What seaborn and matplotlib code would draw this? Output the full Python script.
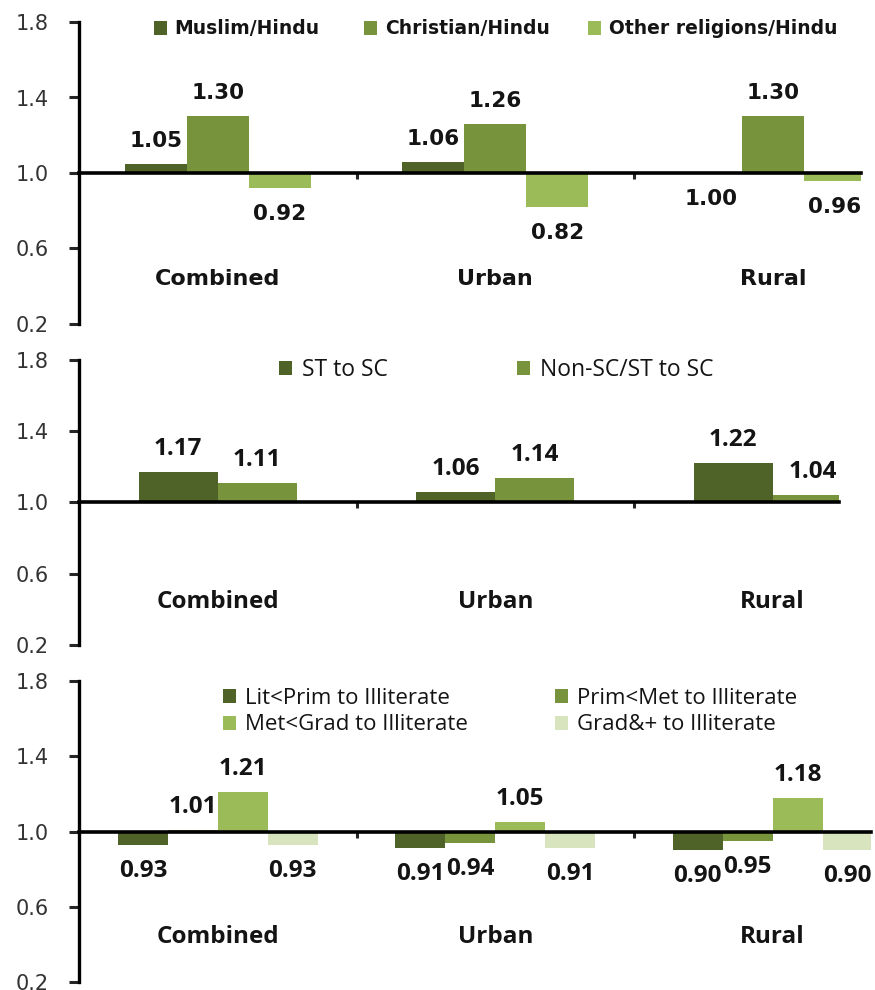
import matplotlib
matplotlib.use("Agg")
import matplotlib.pyplot as plt
from matplotlib.ticker import FormatStrFormatter
import pandas as pd
import seaborn as sns

# ---- data -------------------------------------------------------------
areas = ["Combined", "Urban", "Rural"]

religion_series = ["Muslim/Hindu", "Christian/Hindu", "Other religions/Hindu"]
muslim_hindu = [1.05, 1.06, 1.00]
christian_hindu = [1.30, 1.26, 1.30]
other_hindu = [0.92, 0.82, 0.96]

caste_series = ["ST to SC", "Non-SC/ST to SC"]
st_sc = [1.17, 1.06, 1.22]
non_scst_sc = [1.11, 1.14, 1.04]

edu_series = ["Lit<Prim to Illiterate", "Prim<Met to Illiterate",
              "Met<Grad to Illiterate", "Grad&+ to Illiterate"]
lit_prim = [0.93, 0.91, 0.90]
prim_met = [1.01, 0.94, 0.95]
met_grad = [1.21, 1.05, 1.18]
grad_plus = [0.93, 0.91, 0.90]

y_ticks = [0.2, 0.6, 1.0, 1.4, 1.8]
baseline = 1.0

# ---- styling ----------------------------------------------------------
sns.set_style("white")
plt.rcParams["font.family"] = ["DejaVu Sans"]

greens = ["#4f6228", "#77933c", "#9bbb59", "#d7e4bd"]
W, H = 875, 990
GROUP_PX = 277.5

fig = plt.figure(figsize=(W / 100, H / 100), dpi=100)


def long_table(names, values):
    rows = []
    for name, vals in zip(names, values):
        for area, v in zip(areas, vals):
            rows.append({"area": area, "series": name, "ratio": v})
    return pd.DataFrame(rows)


def draw_panel(box, names, values, width, family, tick_fs, val_fs, cat_fs,
               leg_fs, leg_weight, leg_slots, hsize, hpad):
    left, top, right, bottom = box
    ax = fig.add_axes([left / W, 1 - bottom / H, (right - left) / W, (bottom - top) / H])
    df = long_table(names, values)
    sns.barplot(data=df, x="area", y="ratio", hue="series", order=areas,
                hue_order=names, palette=dict(zip(names, greens)),
                width=width, saturation=1, linewidth=0, ax=ax, legend=True)
    leg = ax.get_legend()
    handles = list(leg.legend_handles)
    leg.remove()

    # bars hang from the 1.0 parity line, labels sit beyond the bar end
    for cont in ax.containers:
        for bar in cont:
            v = bar.get_height()
            bar.set_y(baseline)
            bar.set_height(v - baseline)
            up = v > baseline
            ax.annotate(f"{v:.2f}", (bar.get_x() + bar.get_width() / 2, v),
                        xytext=(0, 16.5 if up else -18.7), textcoords="offset points",
                        ha="center", va="center", fontsize=val_fs,
                        fontweight="bold", fontfamily=family, color="#141414")

    ax.set_ylim(0.2, 1.8)
    ax.set_xlim(-0.5, -0.5 + (right - left) / GROUP_PX)
    ax.set_yticks(y_ticks)
    ax.yaxis.set_major_formatter(FormatStrFormatter("%.1f"))
    ax.set_xticks([])
    ax.set_xticks([0.5, 1.5], minor=True)
    ax.set_xlabel("")
    ax.set_ylabel("")

    for side in ("top", "right"):
        ax.spines[side].set_visible(False)
    ax.spines["left"].set_linewidth(2.4)
    ax.spines["bottom"].set_linewidth(2.6)
    ax.spines["bottom"].set_position(("data", baseline))
    ax.spines["left"].set_color("black")
    ax.spines["bottom"].set_color("black")

    ax.tick_params(axis="y", direction="out", length=7.5, width=2.2, pad=14,
                   labelsize=tick_fs, labelcolor="#333333", left=True)
    ax.tick_params(axis="x", which="minor", direction="out", length=4.5,
                   width=2.2, bottom=True)
    for lab in ax.get_yticklabels():
        lab.set_fontfamily("DejaVu Sans")

    for i, a in enumerate(areas):
        ax.text(i, 0.44, a, ha="center", va="center", fontsize=cat_fs,
                fontweight="bold", fontfamily=family, color="#141414")

    for h, name, (x, y) in zip(handles, names, leg_slots):
        fig.legend([h], [name], loc="center left",
                   bbox_to_anchor=(x / W, 1 - y / H), bbox_transform=fig.transFigure,
                   frameon=False, borderpad=0, borderaxespad=0,
                   handlelength=hsize, handleheight=hsize, handletextpad=hpad,
                   prop={"family": family, "size": leg_fs, "weight": leg_weight},
                   labelcolor="#141414")
    return ax


# religion ratios
draw_panel((79, 22, 861, 324), religion_series,
           [muslim_hindu, christian_hindu, other_hindu], 0.67,
           "DejaVu Sans", 15, 15.5, 16, 13.5, "bold",
           [(154, 29), (364, 29), (588, 29)], 0.7, 0.4)

# caste ratios
draw_panel((79, 360, 839, 645), caste_series,
           [st_sc, non_scst_sc], 0.57,
           "Open Sans", 15, 17.5, 17.5, 16.5, "normal",
           [(279, 370), (517, 370)], 0.58, 0.42)

# education ratios
draw_panel((79, 681, 871, 982), edu_series,
           [lit_prim, prim_met, met_grad, grad_plus], 0.72,
           "Open Sans", 15, 17.5, 17.5, 16, "normal",
           [(223, 698), (555, 698), (223, 725), (555, 725)], 0.58, 0.42)

fig.savefig("out.png", dpi=100)
